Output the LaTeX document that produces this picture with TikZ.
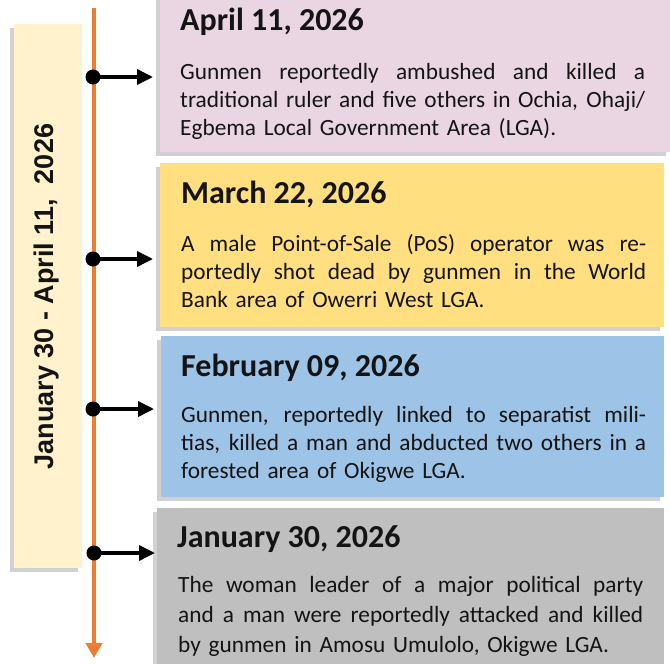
\documentclass[tikz,border=0pt]{standalone}
\usepackage{fontspec}
\setmainfont{Carlito}
\newfontfamily\arialf{Liberation Sans}
\usetikzlibrary{arrows.meta,shadows}
\definecolor{pinkbox}{HTML}{EAD6E2}
\definecolor{yellowbox}{HTML}{FFDF80}
\definecolor{bluebox}{HTML}{9DC3E6}
\definecolor{graybox}{HTML}{BFBFBF}
\definecolor{bannerfill}{HTML}{FFF2CC}
\definecolor{orangeline}{HTML}{ED7D31}
\definecolor{inktext}{HTML}{141414}
\tikzset{
  eventbox/.style={rectangle, inner sep=0, draw=none, anchor=north west,
    drop shadow={shadow xshift=-4pt, shadow yshift=-4pt, fill=black, opacity=0.18}},
  titletext/.style={inner sep=0, anchor=base west, text=inktext,
    font=\bfseries\fontsize{32}{38}\selectfont},
  bodytext/.style={inner sep=0, anchor=base west, text=inktext, text width=465pt,
    align=left, font=\fontsize{23.3}{28}\selectfont},
  dotnode/.style={circle, fill=black, minimum size=15pt, inner sep=0},
  conn/.style={line width=3.5pt, -{Triangle[length=16pt,width=15pt]}},
  timeline/.style={draw=orangeline, line width=4pt, -{Triangle[length=15pt,width=16pt]}},
}
\newcommand{\jline}[1]{\leavevmode\hbox to 465pt{\spaceskip=\fontdimen2\font plus 1fil\relax #1}}
\begin{document}
\begin{tikzpicture}[x=1pt,y=-1pt]
\useasboundingbox (0,0) rectangle (670,664);
% banner
\node[eventbox, fill=bannerfill, minimum width=68pt, minimum height=544pt] (bn) at (14,24) {};
\node[rotate=90, anchor=base, inner sep=0, text=inktext,
  font=\arialf\bfseries\fontsize{27}{32}\selectfont] (bt) at (53.5,296.5) {January 30 - April 11,\ \ 2026};
% boxes
\node[eventbox, fill=pinkbox, minimum width=510pt, minimum height=162pt] (b1) at (160,-10) {};
\node[eventbox, fill=yellowbox, minimum width=504pt, minimum height=164pt] (b2) at (160,163) {};
\node[eventbox, fill=bluebox, minimum width=503pt, minimum height=161pt] (b3) at (161,336) {};
\node[eventbox, fill=graybox, minimum width=507pt, minimum height=170pt] (b4) at (157,508) {};
% titles
\node[titletext] (t1) at (180,30) {April 11, 2026};
\node[titletext] (t2) at (181,203) {March 22, 2026};
\node[titletext] (t3) at (181,376) {February 09, 2026};
\node[titletext] (t4) at (177,547) {January 30, 2026};
% bodies
\node[bodytext] (x1) at (180,79) {\jline{Gunmen reportedly ambushed and killed a}\\\jline{traditional ruler and five others in Ochia, Ohaji/}\\Egbema Local Government Area (LGA).};
\node[bodytext] (x2) at (181,251) {\jline{A male Point-of-Sale (PoS) operator was re-}\\\jline{portedly shot dead by gunmen in the World}\\Bank area of Owerri West LGA.};
\node[bodytext] (x3) at (181,422) {\jline{Gunmen, reportedly linked to separatist mili-}\\\jline{tias, killed a man and abducted two others in a}\\forested area of Okigwe LGA.};
\node[bodytext, font=\fontsize{23.3}{30}\selectfont] (x4) at (178,592) {\jline{The woman leader of a major political party}\\\jline{and a man were reportedly attacked and killed}\\by gunmen in Amosu Umulolo, Okigwe LGA.};
% timeline
\coordinate (ltop) at (94,8);
\coordinate (lbot) at (94,658);
\draw[timeline] (ltop) -- (lbot);
% dots and arrows
\node[dotnode] (d1) at (93,77) {};
\node[dotnode] (d2) at (93,259) {};
\node[dotnode] (d3) at (93,409) {};
\node[dotnode] (d4) at (94,553) {};
\draw[conn, shorten >=7pt] (d1.center) -- (d1.center -| b1.west);
\draw[conn, shorten >=7pt] (d2.center) -- (d2.center -| b2.west);
\draw[conn, shorten >=7pt] (d3.center) -- (d3.center -| b3.west);
\draw[conn, shorten >=2pt] (d4.center) -- (d4.center -| b4.west);
\end{tikzpicture}
\end{document}
